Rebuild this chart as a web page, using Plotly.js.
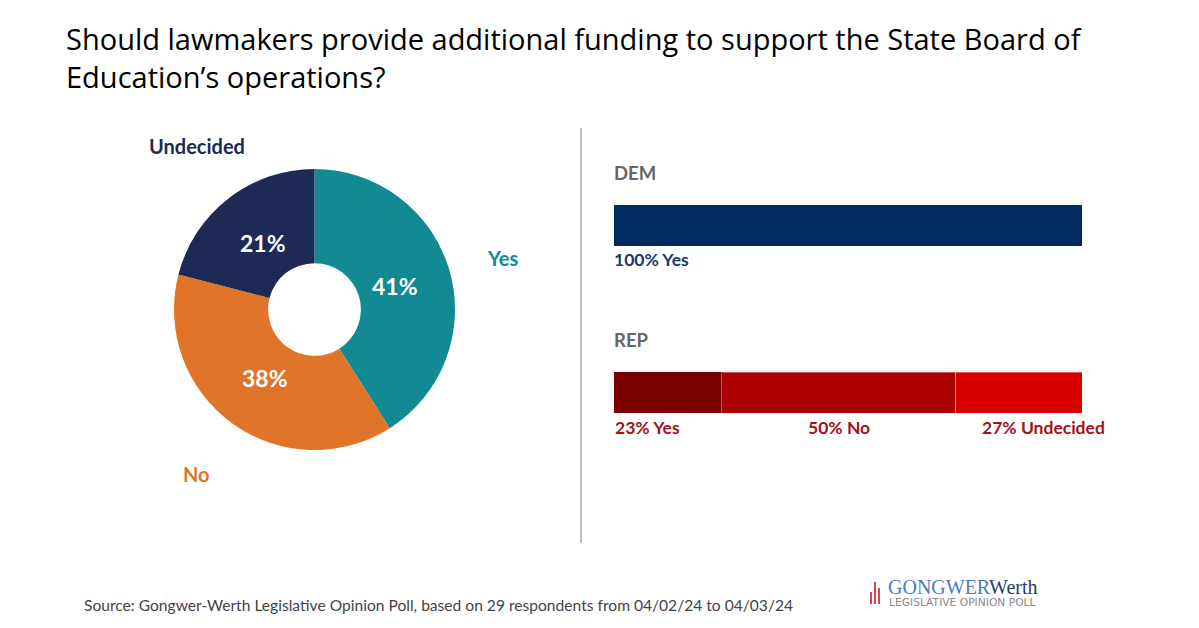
<!DOCTYPE html>
<html>
<head>
<meta charset="utf-8">
<script src="https://cdn.plot.ly/plotly-3.0.1.min.js"></script>
<style>html,body{margin:0;padding:0;background:#fff;}#chart{width:1199px;height:628px;}</style>
</head>
<body>
<div id="chart"></div>
<script>
// ---- Data ----
const pieLabels = ['Yes', 'No', 'Undecided'];
const pieValues = [41, 38, 21];
const pieColors = ['#128A93', '#E07428', '#1C2A55'];

const parties = ['DEM', 'REP'];
const answerNames = ['Yes', 'No', 'Undecided'];
const demValues = [100, 0, 0];
const repValues = [23, 50, 27];

const demColors = ['#012B5F', '#012B5F', '#012B5F'];
const repColors = ['#7B0000', '#AA0000', '#D60000'];

const titleText = 'Should lawmakers provide additional funding to support the State Board of<br>Education’s operations?';
const sourceText = 'Source: Gongwer-Werth Legislative Opinion Poll, based on 29 respondents from 04/02/24 to 04/03/24';

const W = 1199, H = 628;
const px = x => x / W;
const py = y => 1 - y / H;

// pie geometry (domain in pixels)
const pieL = 174, pieR = 455, pieT = 168, pieB = 451;
const pieCx = (pieL + pieR) / 2, pieCy = (pieT + pieB) / 2;
const pieRad = (pieR - pieL) / 2;
const holeFrac = 0.33;

// ---- Traces ----
const traces = [];
traces.push({
  type: 'pie',
  labels: pieLabels,
  values: pieValues,
  marker: {colors: pieColors, line: {width: 0}},
  hole: holeFrac,
  sort: false,
  direction: 'clockwise',
  rotation: 0,
  textinfo: 'none',
  domain: {x: [px(pieL), px(pieR)], y: [py(pieB), py(pieT)]},
  showlegend: false,
  hoverinfo: 'label+percent'
});

answerNames.forEach((name, i) => {
  traces.push({
    type: 'bar',
    orientation: 'h',
    name: name,
    y: parties,
    x: [demValues[i], repValues[i]],
    width: 0.2455,
    marker: {
      color: [demColors[i], repColors[i]],
      line: {color: ['rgba(0,0,0,0)', i > 0 ? 'rgba(255,255,255,0.35)' : 'rgba(0,0,0,0)'], width: 1}
    },
    xaxis: 'x', yaxis: 'y',
    showlegend: false,
    hoverinfo: 'x+name'
  });
});

// ---- Annotations ----
const annotations = [];
const lblFont = (c, s) => ({family: 'Lato', size: s, color: c, weight: 'bold'});

// slice percentages placed at the middle of each ring segment
const pieTotal = pieValues.reduce((a, b) => a + b, 0);
let acc = 0;
const midR = pieRad * (1 + holeFrac) / 2 * 0.9;
pieValues.forEach((v, i) => {
  const mid = (acc + v / 2) / pieTotal * 2 * Math.PI;
  acc += v;
  const x = pieCx + midR * Math.sin(mid);
  const y = pieCy - midR * Math.cos(mid);
  annotations.push({xref: 'paper', yref: 'paper', x: px(x), y: py(y), text: v + '%', showarrow: false, xanchor: 'center', yanchor: 'middle', font: lblFont('#ffffff', 23)});
});

// outside pie labels
annotations.push({xref: 'paper', yref: 'paper', x: px(502), y: py(258), text: pieLabels[0], showarrow: false, xanchor: 'center', yanchor: 'middle', font: lblFont(pieColors[0], 20)});
annotations.push({xref: 'paper', yref: 'paper', x: px(196), y: py(474), text: pieLabels[1], showarrow: false, xanchor: 'center', yanchor: 'middle', font: lblFont(pieColors[1], 20)});
annotations.push({xref: 'paper', yref: 'paper', x: px(197), y: py(146), text: pieLabels[2], showarrow: false, xanchor: 'center', yanchor: 'middle', font: lblFont(pieColors[2], 20)});

// party headers
parties.forEach((p, j) => {
  annotations.push({xref: 'x', yref: 'y', x: 0, y: j - 0.314, text: p, showarrow: false, xanchor: 'left', yanchor: 'middle', xshift: -2, font: lblFont('#666666', 18.5)});
});

// DEM label
annotations.push({xref: 'x', yref: 'y', x: 0, y: 0.2006, text: demValues[0] + '% ' + answerNames[0], showarrow: false, xanchor: 'left', yanchor: 'middle', xshift: -2, font: lblFont('#1B3A6B', 17.5)});

// REP labels
let cum = 0;
const repTotal = repValues.reduce((a, b) => a + b, 0);
repValues.forEach((v, i) => {
  let anchor, xv, shift;
  if (i === 0) { anchor = 'left'; xv = cum; shift = -1; }
  else if (i === repValues.length - 1) { anchor = 'right'; xv = repTotal; shift = 25; }
  else { anchor = 'center'; xv = cum + v / 2; shift = 0; }
  annotations.push({xref: 'x', yref: 'y', x: xv, y: 1.2066, text: v + '% ' + answerNames[i], showarrow: false, xanchor: anchor, yanchor: 'middle', xshift: shift, font: lblFont('#A3111E', 17.5)});
  cum += v;
});

// source
annotations.push({xref: 'paper', yref: 'paper', x: px(82), y: py(605), text: sourceText, showarrow: false, xanchor: 'left', yanchor: 'middle', font: {family: 'Lato', size: 15.6, color: '#444444'}});

// logo text
annotations.push({xref: 'paper', yref: 'paper', x: px(886), y: py(587), text: '<span style="color:#4A7DBE">GONGWER</span><span style="color:#283D6B">Werth</span>', showarrow: false, xanchor: 'left', yanchor: 'middle', font: {family: 'Liberation Serif', size: 20, color: '#4A7DBE'}});
annotations.push({xref: 'paper', yref: 'paper', x: px(887), y: py(602), text: 'LEGISLATIVE OPINION POLL', showarrow: false, xanchor: 'left', yanchor: 'middle', font: {family: 'DejaVu Sans', size: 10.7, color: '#8A8A8A'}});

// ---- Shapes ----
const shapes = [
  {type: 'line', xref: 'paper', yref: 'paper', x0: px(581), x1: px(581), y0: py(128), y1: py(543), line: {color: '#BDBDBD', width: 2}},
  // logo bars
  {type: 'rect', xref: 'paper', yref: 'paper', x0: px(870), x1: px(872), y0: py(604), y1: py(592), fillcolor: '#E04050', line: {width: 0}},
  {type: 'rect', xref: 'paper', yref: 'paper', x0: px(874), x1: px(876), y0: py(604), y1: py(582), fillcolor: '#E04050', line: {width: 0}},
  {type: 'rect', xref: 'paper', yref: 'paper', x0: px(878), x1: px(880), y0: py(604), y1: py(588), fillcolor: '#E04050', line: {width: 0}}
];

const layout = {
  width: W, height: H,
  margin: {l: 0, r: 0, t: 0, b: 0},
  paper_bgcolor: '#ffffff',
  plot_bgcolor: 'rgba(0,0,0,0)',
  title: {
    text: titleText,
    font: {family: 'Open Sans', size: 29, color: '#000000'},
    x: px(66), xanchor: 'left', xref: 'paper',
    y: py(50), yanchor: 'top', yref: 'container'
  },
  barmode: 'stack',
  xaxis: {domain: [px(614), px(1082)], range: [0, 100], visible: false, fixedrange: true},
  yaxis: {domain: [py(543), py(128)], range: [1.9012, -0.5838], visible: false, type: 'category', fixedrange: true},
  annotations: annotations,
  shapes: shapes,
  showlegend: false
};

Plotly.newPlot('chart', traces, layout, {displayModeBar: false, staticPlot: true});
</script>
</body>
</html>
